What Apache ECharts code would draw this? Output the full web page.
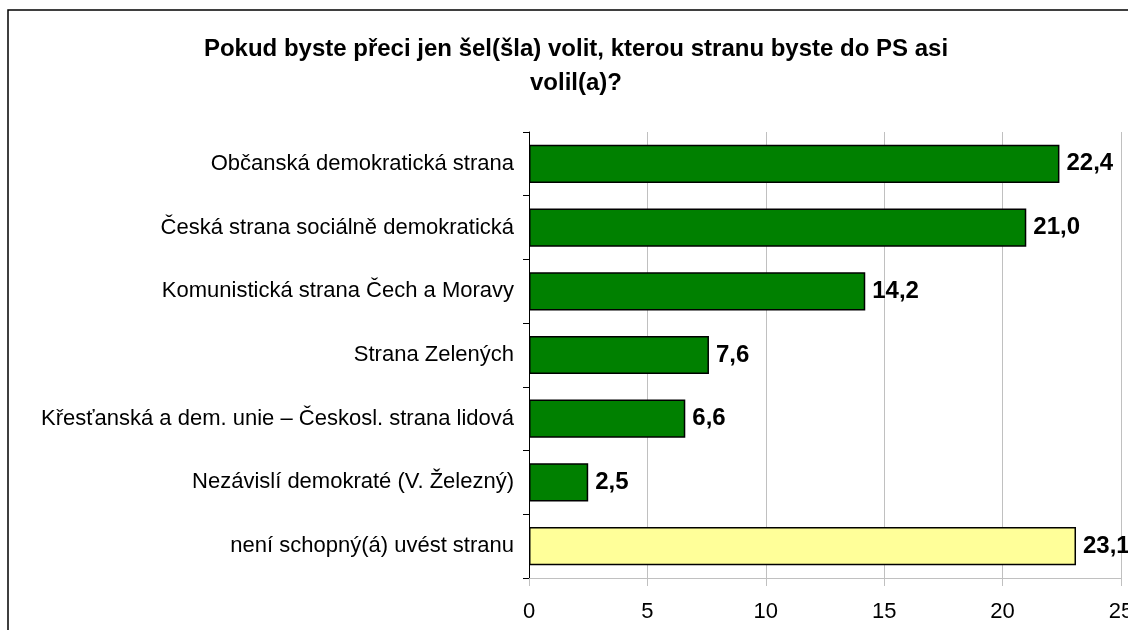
<!DOCTYPE html>
<html><head><meta charset="utf-8">
<script src="https://cdn.jsdelivr.net/npm/echarts@6/dist/echarts.min.js"></script>
<style>html,body{margin:0;padding:0;background:#fff;overflow:hidden}#c{width:1128px;height:630px}</style>
</head><body><div id="c"></div>
<script>
const titleText = 'Pokud byste přeci jen šel(šla) volit, kterou stranu byste do PS asi\nvolil(a)?';
const categories = [
  'Občanská demokratická strana',
  'Česká strana sociálně demokratická',
  'Komunistická strana Čech a Moravy',
  'Strana Zelených',
  'Křesťanská a dem. unie – Českosl. strana lidová',
  'Nezávislí demokraté (V. Železný)',
  'není schopný(á) uvést stranu'
];
const values = [22.4, 21.0, 14.2, 7.6, 6.6, 2.5, 23.1];
const barColors = ['#008000','#008000','#008000','#008000','#008000','#008000','#FFFF99'];
const xTicks = [0, 5, 10, 15, 20, 25];

const chart = echarts.init(document.getElementById('c'), null, {renderer:'canvas'});
const font = 'Liberation Sans, Arial, sans-serif';
chart.setOption({
  animation: false,
  backgroundColor: '#fff',
  graphic: [{
    type: 'rect', shape: {x: 8, y: 10, width: 1300, height: 800},
    style: {fill: 'none', stroke: '#000', lineWidth: 1.5}, z: -1
  }],
  title: {
    text: titleText, left: 571, top: 27, textAlign: 'center',
    textStyle: {fontFamily: font, fontSize: 24, fontWeight: 'bold', color: '#000', lineHeight: 34}
  },
  grid: {left: 529, right: 7, top: 132, bottom: 52, containLabel: false, outerBoundsMode: 'none'},
  xAxis: {
    type: 'value', min: xTicks[0], max: xTicks[xTicks.length-1], interval: 5,
    axisLine: {show: true, lineStyle: {color: '#c0c0c0', width: 1}},
    axisTick: {show: true, length: 8, lineStyle: {color: '#c0c0c0'}},
    splitLine: {show: true, lineStyle: {color: '#c0c0c0', width: 1}},
    axisLabel: {fontFamily: font, fontSize: 22, color: '#000', margin: 23, hideOverlap: false}
  },
  yAxis: {
    type: 'category', data: categories, inverse: true,
    axisLine: {show: true, lineStyle: {color: '#000', width: 1}},
    axisTick: {show: true, length: 6, lineStyle: {color: '#000'}},
    axisLabel: {fontFamily: font, fontSize: 22, color: '#000', margin: 15}
  },
  series: [{
    type: 'bar', barWidth: '60%',
    data: values.map((v, i) => ({value: v, itemStyle: {color: barColors[i]}})),
    itemStyle: {borderColor: '#000', borderWidth: 1.5},
    label: {
      show: true, position: 'right', distance: 7,
      fontFamily: font, fontSize: 24, fontWeight: 'bold', color: '#000',
      formatter: p => p.value.toFixed(1).replace('.', ',')
    }
  }]
});
</script></body></html>
